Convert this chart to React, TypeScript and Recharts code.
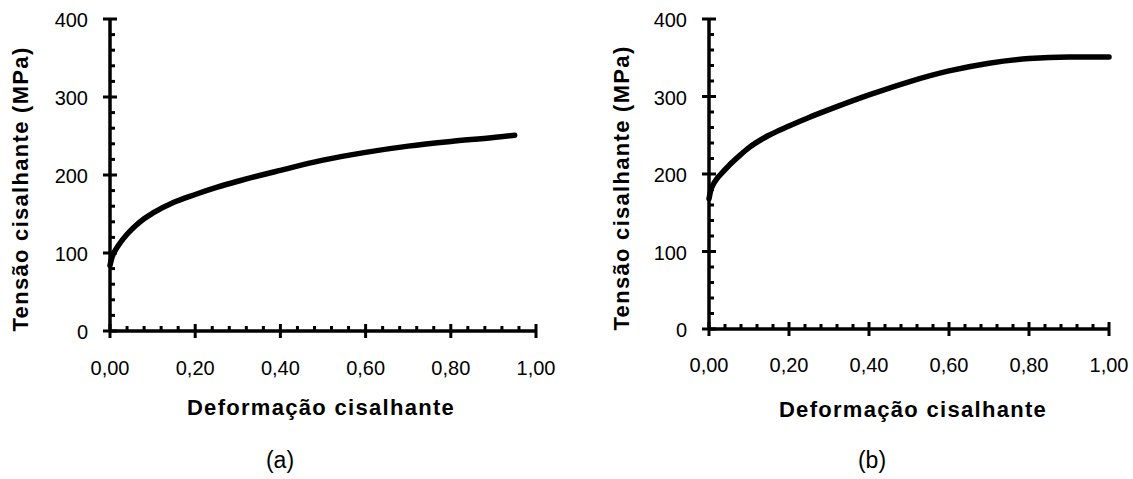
import React from 'react';
import { LineChart, Line, XAxis, YAxis, Label } from 'recharts';

// (a) shear strain / shear stress
const strainA = [0, 0.005, 0.01, 0.02, 0.04, 0.06, 0.08, 0.1, 0.15, 0.2, 0.25, 0.3, 0.4, 0.5, 0.6, 0.7, 0.8, 0.9, 0.95];
const stressA = [84, 95, 101, 110, 124, 135, 144, 151, 165, 175, 184, 192, 206, 219, 229, 237, 243, 248, 251];

// (b) right curve
const strainB = [0, 0.005, 0.01, 0.02, 0.03, 0.05, 0.075, 0.1, 0.15, 0.2, 0.25, 0.3, 0.4, 0.5, 0.6, 0.7, 0.8, 0.9, 0.95, 1.0];
const stressB = [168, 180, 186, 194, 200, 211, 223, 234, 250, 262, 273, 283, 302, 319, 333, 343, 349, 351, 351, 351];

const xMajor = [0, 0.2, 0.4, 0.6, 0.8, 1];
const xMajorLabels = ['0,00', '0,20', '0,40', '0,60', '0,80', '1,00'];
const xMinor = [0.04, 0.08, 0.12, 0.16, 0.24, 0.28, 0.32, 0.36, 0.44, 0.48, 0.52, 0.56, 0.64, 0.68, 0.72, 0.76, 0.84, 0.88, 0.92, 0.96];
const yMajor = [0, 100, 200, 300, 400];
const yMinor = [20, 40, 60, 80, 120, 140, 160, 180, 220, 240, 260, 280, 320, 340, 360, 380];

const xTitle = 'Deformação  cisalhante';
const yTitle = 'Tensão cisalhante  (MPa)';

const FONT = "'Liberation Sans', Arial, Helvetica, sans-serif";

const xTicks = [...xMajor, ...xMinor].sort((a, b) => a - b);
const yTicks = [...yMajor, ...yMinor].sort((a, b) => a - b);

const findMajor = (list: number[], v: number) => list.findIndex(m => Math.abs(m - v) < 1e-9);

const makeXTick = (labelDy: number) => (props: any) => {
  const { x, y, payload } = props;
  const idx = findMajor(xMajor, payload.value);
  if (idx < 0) {
    return <line x1={x} x2={x} y1={y} y2={y - 5} stroke="#000" strokeWidth={3} />;
  }
  return (
    <g>
      <line x1={x} x2={x} y1={y - 7} y2={y + 7} stroke="#000" strokeWidth={3} />
      <text x={x} y={y + labelDy} textAnchor="middle" fontFamily={FONT} fontSize={20} fill="#000">
        {xMajorLabels[idx]}
      </text>
    </g>
  );
};

const YTick = (props: any) => {
  const { x, y, payload } = props;
  const idx = findMajor(yMajor, payload.value);
  if (idx < 0) {
    return <line x1={x} x2={x + 5} y1={y} y2={y} stroke="#000" strokeWidth={3} />;
  }
  return (
    <g>
      <line x1={x - 7} x2={x + 7} y1={y} y2={y} stroke="#000" strokeWidth={3} />
      <text x={x - 22} y={y + 8} textAnchor="end" fontFamily={FONT} fontSize={20} fill="#000">
        {yMajor[idx]}
      </text>
    </g>
  );
};

const titleStyle = { fontFamily: FONT, fontSize: 22, fontWeight: 700, letterSpacing: 1.3 };

interface PanelProps {
  data: { x: number; y: number }[];
  width: number;
  margin: { top: number; right: number; left: number; bottom: number };
  xTitleX: number;
  xTitleY: number;
  yTitleX: number;
  yTitleY: number;
  tag: string;
  tagX: number;
  labelDy: number;
}

// axes get a 40px box; margins below are reduced by that so the plot lands where the reference has it
const AXIS_BOX = 40;

const Panel: React.FC<PanelProps> = ({ data, width, margin, xTitleX, xTitleY, yTitleX, yTitleY, tag, tagX, labelDy }) => (
  <LineChart
    width={width}
    height={479}
    data={data}
    margin={{ ...margin, left: margin.left - AXIS_BOX, bottom: margin.bottom - AXIS_BOX }}
  >
    <XAxis
      type="number"
      dataKey="x"
      domain={[0, 1]}
      ticks={xTicks}
      interval={0}
      height={AXIS_BOX}
      tickSize={0}
      tickMargin={0}
      tickLine={false}
      axisLine={{ stroke: '#000', strokeWidth: 3.5 }}
      tick={makeXTick(labelDy)}
    >
      <Label
        content={() => (
          <g>
            <text x={xTitleX} y={xTitleY} textAnchor="middle" fill="#000" style={titleStyle}>
              {xTitle}
            </text>
            <text x={tagX} y={468} textAnchor="middle" fill="#000" fontFamily={FONT} fontSize={23}>
              {tag}
            </text>
          </g>
        )}
      />
    </XAxis>
    <YAxis
      type="number"
      domain={[0, 400]}
      ticks={yTicks}
      interval={0}
      width={AXIS_BOX}
      tickSize={0}
      tickMargin={0}
      tickLine={false}
      axisLine={{ stroke: '#000', strokeWidth: 3.5 }}
      tick={YTick}
    >
      <Label
        content={() => (
          <text
            x={yTitleX}
            y={yTitleY}
            textAnchor="middle"
            fill="#000"
            transform={`rotate(-90, ${yTitleX}, ${yTitleY})`}
            style={titleStyle}
          >
            {yTitle}
          </text>
        )}
      />
    </YAxis>
    <Line
      type="monotone"
      dataKey="y"
      stroke="#000"
      strokeWidth={5.5}
      strokeLinecap="round"
      dot={false}
      isAnimationActive={false}
    />
  </LineChart>
);

const dataA = strainA.map((x, i) => ({ x, y: stressA[i] }));
const dataB = strainB.map((x, i) => ({ x, y: stressB[i] }));

export default function App() {
  return (
    <div style={{ position: 'absolute', left: 0, top: 0, width: 1133, height: 479, background: '#fff' }}>
      <div style={{ position: 'absolute', left: 0, top: 0 }}>
        <Panel
          data={dataA}
          width={560}
          margin={{ top: 19, right: 24, left: 110, bottom: 148 }}
          xTitleX={321}
          xTitleY={415}
          yTitleX={28}
          yTitleY={189}
          tag="(a)"
          tagX={280}
          labelDy={44}
        />
      </div>
      <div style={{ position: 'absolute', left: 560, top: 0 }}>
        <Panel
          data={dataB}
          width={573}
          margin={{ top: 19, right: 24, left: 149, bottom: 150 }}
          xTitleX={353}
          xTitleY={417}
          yTitleX={69}
          yTitleY={188}
          tag="(b)"
          tagX={312}
          labelDy={43}
        />
      </div>
    </div>
  );
}
